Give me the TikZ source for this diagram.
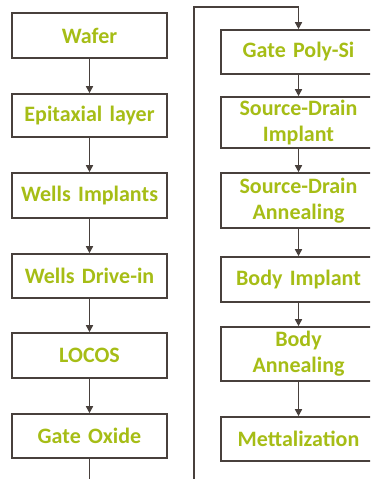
\documentclass[tikz,border=0pt]{standalone}
\usepackage{fontspec}
\setmainfont{Carlito}
\usetikzlibrary{arrows.meta}
\definecolor{txtgreen}{RGB}{166,189,22}
\definecolor{linegray}{RGB}{72,64,60}
\tikzset{
  stepbox/.style={draw=linegray, line width=1.6pt, minimum width=155pt, text width=152pt, align=center, inner sep=0pt,
    font=\fontsize{22}{26}\selectfont\bfseries, text=txtgreen},
  flow/.style={draw=linegray, line width=1.5pt, -{Triangle[length=7pt,width=7pt]}}
}
\begin{document}
\begin{tikzpicture}[x=1pt,y=-1pt]
\useasboundingbox (0,0) rectangle (370,479);
\clip (0,0) rectangle (370,479);
\node[stepbox, minimum height=45pt] (w)  at (89.5,35.5) {Wafer};
\node[stepbox, minimum height=43pt] (e)  at (89.5,115.5) {Epitaxial layer};
\node[stepbox, minimum height=45pt] (wi) at (89.5,195.5) {Wells Implants};
\node[stepbox, minimum height=44pt] (wd) at (89.5,276) {Wells Drive-in};
\node[stepbox, minimum height=45pt] (lo) at (89.5,355.5) {LOCOS};
\node[stepbox, minimum height=44pt] (go) at (89.5,436) {Gate Oxide};
\node[stepbox, minimum height=44pt] (gp) at (298.5,52) {Gate Poly-Si};
\node[stepbox, minimum height=51pt] (si) at (298.5,122.5) {Source-Drain\\Implant};
\node[stepbox, minimum height=55pt] (sa) at (298.5,200.5) {Source-Drain\\Annealing};
\node[stepbox, minimum height=45pt] (bi) at (298.5,279.5) {Body Implant};
\node[stepbox, minimum height=54pt] (ba) at (298.5,354) {Body\\Annealing};
\node[stepbox, minimum height=44pt] (me) at (298.5,439) {Mettalization};
\coordinate (c1) at (194,495);
\coordinate (c2) at (194,7);
\draw[flow] (w) -- (e);
\draw[flow] (e) -- (wi);
\draw[flow] (wi) -- (wd);
\draw[flow] (wd) -- (lo);
\draw[flow] (lo) -- (go);
\draw[flow] (go.south) |- (c1) -- (c2) -| (gp.north);
\draw[flow] (gp) -- (si);
\draw[flow] (si) -- (sa);
\draw[flow] (sa) -- (bi);
\draw[flow] (bi) -- (ba);
\draw[flow] (ba) -- (me);
\end{tikzpicture}
\end{document}
